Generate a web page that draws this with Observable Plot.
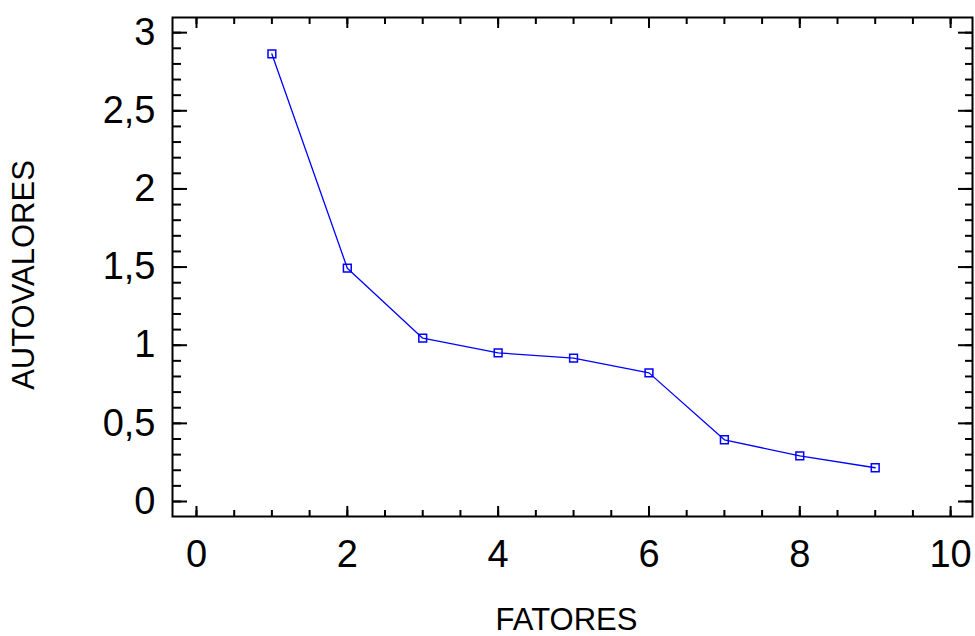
<!DOCTYPE html>
<html>
<head>
<meta charset="utf-8">
<script src="https://cdn.jsdelivr.net/npm/d3@7"></script>
<script src="https://cdn.jsdelivr.net/npm/@observablehq/plot@0.6"></script>
<style>
  html, body { margin: 0; padding: 0; background: white; }
</style>
</head>
<body>
<div id="chart"></div>
<script>
// Data
const factors = [1, 2, 3, 4, 5, 6, 7, 8, 9];
const eigenvalues = [2.864, 1.493, 1.045, 0.951, 0.917, 0.823, 0.395, 0.292, 0.216];

// Tick labels / positions
const xMajorTicks = [0, 2, 4, 6, 8, 10];
const xMinorTicks = d3.range(0, 10.001, 0.5);
const yMajorTicks = [0, 0.5, 1, 1.5, 2, 2.5, 3];
const yMinorTicks = d3.range(0, 3.001, 0.1);
const xTitle = "FATORES";
const yTitle = "AUTOVALORES";

const data = factors.map((f, i) => ({factor: f, value: eigenvalues[i]}));
const fmt = d => String(d).replace(".", ",");
const font = "'Liberation Sans', Arial, sans-serif";

const chart = Plot.plot({
  width: 975,
  height: 636,
  marginLeft: 172,
  marginRight: 3,
  marginTop: 17,
  marginBottom: 120,
  x: {domain: [-0.318, 10.29]},
  y: {domain: [-0.096, 3.097]},
  style: {fontFamily: font, background: "white", color: "black"},
  marks: [
    // minor/major ticks, inward, all four sides
    Plot.axisX({anchor: "bottom", ticks: xMinorTicks, tickSize: -6, strokeWidth: 2, fill: "none", label: null}),
    Plot.axisX({anchor: "bottom", ticks: xMajorTicks, tickSize: -10, strokeWidth: 2, fill: "none", label: null}),
    Plot.axisX({anchor: "top", ticks: xMinorTicks, tickSize: -6, strokeWidth: 2, fill: "none", label: null}),
    Plot.axisX({anchor: "top", ticks: xMajorTicks, tickSize: -10, strokeWidth: 2, fill: "none", label: null}),
    Plot.axisY({anchor: "left", ticks: yMinorTicks, tickSize: -9, strokeWidth: 2, fill: "none", label: null}),
    Plot.axisY({anchor: "left", ticks: yMajorTicks, tickSize: -15, strokeWidth: 2, fill: "none", label: null}),
    Plot.axisY({anchor: "right", ticks: yMinorTicks, tickSize: -8, strokeWidth: 2, fill: "none", label: null}),
    Plot.axisY({anchor: "right", ticks: yMajorTicks, tickSize: -15, strokeWidth: 2, fill: "none", label: null}),
    // tick labels
    Plot.axisX({anchor: "bottom", ticks: xMajorTicks, tickSize: 0, tickPadding: 24, fontSize: 38, tickFormat: fmt, label: null}),
    Plot.axisY({anchor: "left", ticks: yMajorTicks, tickSize: 0, tickPadding: 17, fontSize: 38, tickFormat: fmt, label: null}),
    // frame
    Plot.frame({stroke: "black", strokeWidth: 2}),
    // series
    Plot.line(data, {x: "factor", y: "value", stroke: "#0000ff", strokeWidth: 1.3}),
    Plot.dot(data, {x: "factor", y: "value", symbol: "square", r: 4.4, stroke: "#0000ff", strokeWidth: 1.5, fill: "none"}),
    // axis titles
    Plot.text([xTitle], {frameAnchor: "bottom", textAnchor: "middle", dx: -6, dy: 113, lineAnchor: "bottom", fontSize: 31, fill: "black"}),
    Plot.text([yTitle], {frameAnchor: "left", textAnchor: "middle", rotate: -90, dx: -139, dy: 8, lineAnchor: "bottom", fontSize: 31, fill: "black"})
  ]
});
document.getElementById("chart").appendChild(chart);
</script>
</body>
</html>
